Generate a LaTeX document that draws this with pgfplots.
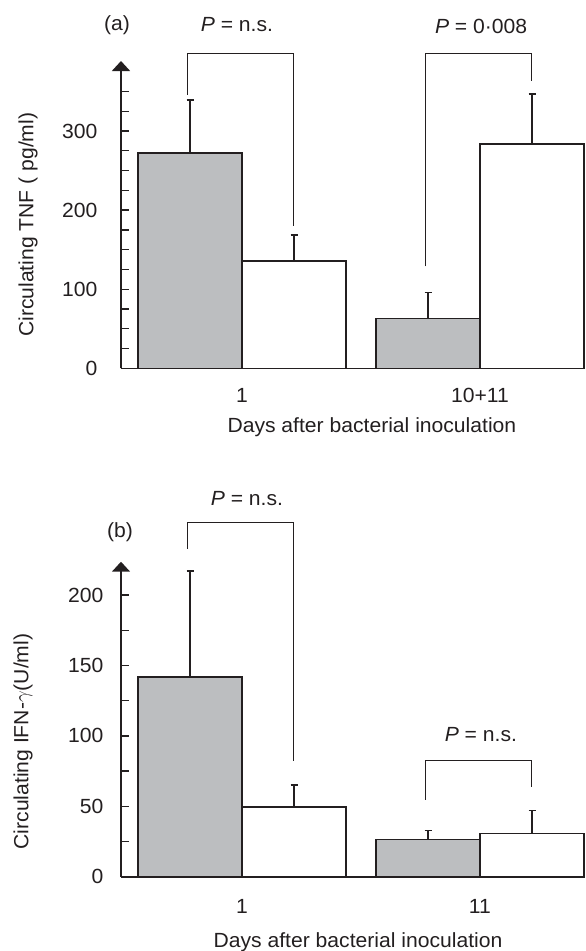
\documentclass[border=0pt]{standalone}
\usepackage{fontspec}
\setmainfont{Liberation Sans}[FakeStretch=1.03]
\usepackage{pgfplots}
\pgfplotsset{compat=1.18}
\usetikzlibrary{arrows.meta}

\definecolor{barfill}{RGB}{188,190,192}
\definecolor{ink}{RGB}{35,31,32}
\newcommand{\fs}{\fontsize{20.5}{24}\selectfont}

\pgfplotsset{
  panel/.style={
    x=238pt,
    xmin=0.492, xmax=2.437, ymin=0,
    axis x line*=bottom, axis y line*=left,
    x axis line style={line width=1.6pt, ink, -},
    y axis line style={line width=1.6pt, ink, -{Triangle[length=10pt,width=18pt]}},
    xtick={1,2}, xtick style={draw=none},
    ytick style={line width=1.3pt, ink},
    every minor tick/.style={line width=1.3pt, ink},
    tick align=inside, major tick length=8pt, minor tick length=8pt,
    tick label style={font=\fs, text=ink},
    /pgf/number format/assume math mode=true,
    yticklabel style={anchor=east},
    xticklabel style={anchor=center},
    label style={font=\fs, text=ink},
    clip=false,
  },
  barbase/.style={ybar, bar width=0.437, bar shift=0pt, draw=ink, line width=1.6pt,
    error bars/y dir=plus, error bars/y explicit,
    error bars/error bar style={line width=1.5pt, ink},
    error bars/error mark options={rotate=90, mark size=3.5pt, line width=1.5pt, ink}},
  gbar/.style={barbase, fill=barfill},
  wbar/.style={barbase, fill=white},
  bracket/.style={sharp plot, ink, line width=1pt, mark=none},
}

\begin{document}
\begin{tikzpicture}
\useasboundingbox (0,0) rectangle (586pt,-951pt);

% (a) TNF
\begin{axis}[panel,
  at={(121pt,-368.3pt)}, anchor=south west,
  y=0.791pt, ymax=388.5,
  ytick={0,100,200,300},
  minor ytick={25,50,75,125,150,175,225,250,275,325,350},
  xticklabels={1,10+11},
  xticklabel style={yshift=-27pt},
  yticklabel style={xshift=-20pt},
  xlabel={Days after bacterial inoculation},
  xlabel style={at={(axis description cs:0.542,-0.1925)}, anchor=center},
  ylabel={Circulating TNF ( pg/ml)},
  ylabel style={at={(axis description cs:-0.2009,0.467)}, rotate=0, anchor=center},
]
\addplot[gbar] coordinates {(0.782,272) +- (0,67) (1.782,63) +- (0,33)};
\addplot[wbar] coordinates {(1.219,135.5) +- (0,33) (2.219,283.5) +- (0,63)};
\addplot[bracket] coordinates {(0.770,346) (0.770,398) (1.215,398) (1.215,180)};
\addplot[bracket] coordinates {(1.770,129) (1.770,398) (2.215,398) (2.215,363.6)};
\node[font=\fs, text=ink] at (axis cs:0.475,434) {(a)};
\node[font=\fs, text=ink] at (axis cs:0.979,434) {\textit{P} = n.s.};
\node[font=\fs, text=ink] at (axis cs:2.005,431.6) {\textit{P} = 0·008};
\end{axis}

% (b) IFN-gamma
\begin{axis}[panel,
  at={(121pt,-876.7pt)}, anchor=south west,
  y=1.408pt, ymax=223.7,
  ytick={0,50,100,150,200},
  minor ytick={25,75,125,175},
  xticklabels={1,11},
  xticklabel style={yshift=-30pt},
  yticklabel style={xshift=-14pt},
  xlabel={Days after bacterial inoculation},
  xlabel style={at={(axis description cs:0.512,-0.2067)}, anchor=center},
  ylabel={Circulating IFN-$\gamma$(U/ml)},
  ylabel style={at={(axis description cs:-0.2117,0.429)}, rotate=0, anchor=center},
]
\addplot[gbar] coordinates {(0.782,142) +- (0,75) (1.782,26.5) +- (0,6.2)};
\addplot[wbar] coordinates {(1.219,49.7) +- (0,15.4) (2.219,30.8) +- (0,16.1)};
\addplot[bracket] coordinates {(0.770,233) (0.770,251.4) (1.215,251.4) (1.215,82.4)};
\addplot[bracket] coordinates {(1.770,54.5) (1.770,82.4) (2.215,82.4) (2.215,63.9)};
\node[font=\fs, text=ink] at (axis cs:0.488,244.7) {(b)};
\node[font=\fs, text=ink] at (axis cs:1.021,268.8) {\textit{P} = n.s.};
\node[font=\fs, text=ink] at (axis cs:2.004,100.7) {\textit{P} = n.s.};
\end{axis}
\end{tikzpicture}
\end{document}
